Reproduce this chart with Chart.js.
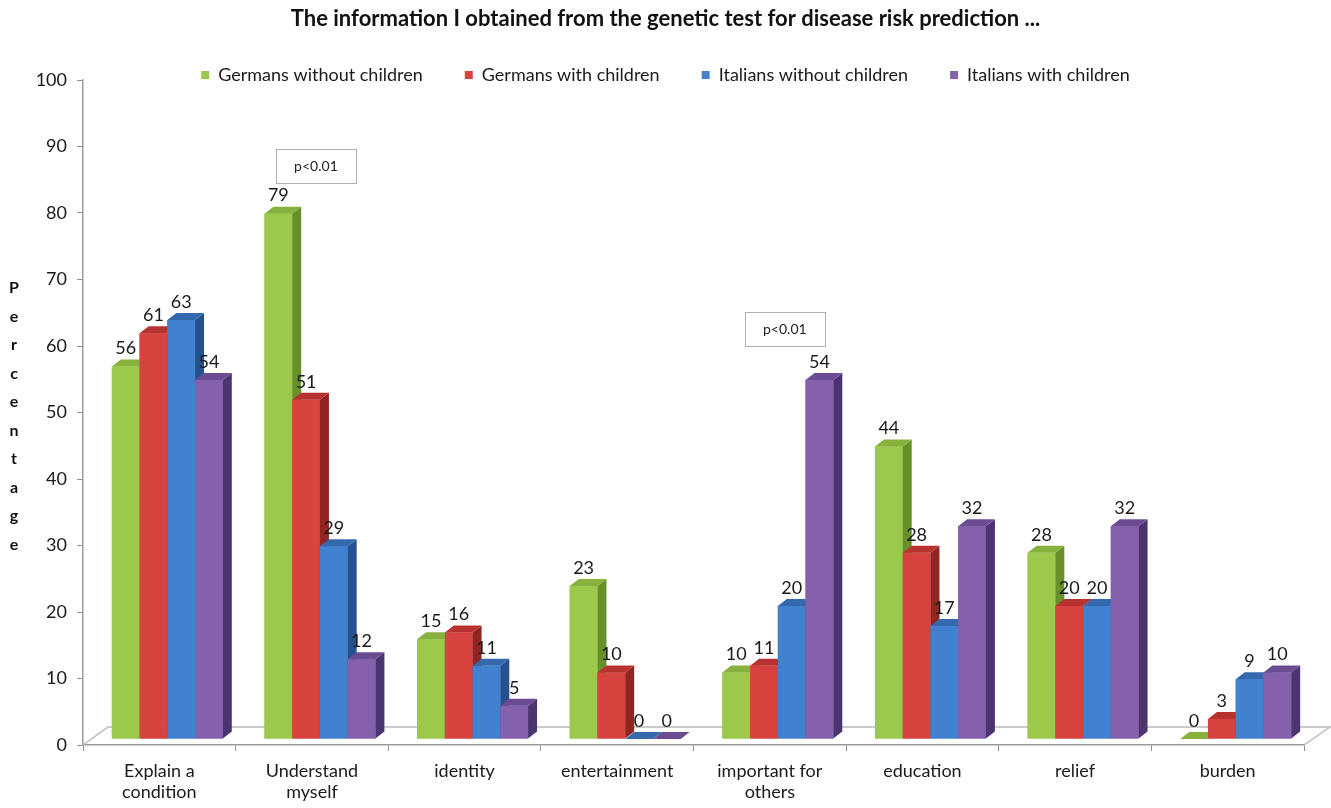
<!DOCTYPE html>
<html>
<head>
<meta charset="utf-8">
<script src="https://cdn.jsdelivr.net/npm/chart.js@4.4.1/dist/chart.umd.min.js"></script>
<style>
html, body { margin: 0; padding: 0; background: #fff; }
#wrap { width: 1331px; height: 808px; position: relative; }
</style>
</head>
<body>
<div id="wrap"><canvas id="chart"></canvas></div>
<script>
// data
const categories = [['Explain a', 'condition'], ['Understand', 'myself'], 'identity', 'entertainment',
    ['important for', 'others'], 'education', 'relief', 'burden'];
const seriesNames = ['Germans without children', 'Germans with children', 'Italians without children', 'Italians with children'];
const germansNoChildren = [56, 79, 15, 23, 10, 44, 28, 0];
const germansChildren = [61, 51, 16, 10, 11, 28, 20, 3];
const italiansNoChildren = [63, 29, 11, 0, 20, 17, 20, 9];
const italiansChildren = [54, 12, 5, 0, 54, 32, 32, 10];
const yTicks = [0, 10, 20, 30, 40, 50, 60, 70, 80, 90, 100];
const titleText = 'The information I obtained from the genetic test for disease risk prediction ...';
const yTitle = 'Percentage';
const notes = [{ cat: 1, value: 87, text: 'p<0.01' }, { cat: 4, value: 62.5, text: 'p<0.01' }];

// colours: front, side, top
const palette = [
    ['#9cc94c', '#68902a', '#86b13c'],
    ['#d8433f', '#912522', '#b8322f'],
    ['#4181cf', '#25528e', '#3569ae'],
    ['#8561ad', '#4c3470', '#6b4c93']
];

const FONT = 'Lato, "Open Sans", sans-serif';
Chart.defaults.font.family = FONT;

// 3D look
const DX = 9, DY = -7, SHIFT_X = 8, SHIFT_Y = -6;

function poly(ctx, pts, color) {
    ctx.beginPath();
    ctx.moveTo(pts[0][0], pts[0][1]);
    for (let k = 1; k < pts.length; k++) ctx.lineTo(pts[k][0], pts[k][1]);
    ctx.closePath();
    ctx.fillStyle = color;
    ctx.fill();
}

const bars3d = {
    id: 'bars3d',
    beforeDatasetsDraw(chart) {
        const { ctx, chartArea: a } = chart;
        // floor of the 3d box
        ctx.save();
        ctx.strokeStyle = '#b9b9b9';
        ctx.lineWidth = 1.5;
        ctx.beginPath();
        ctx.moveTo(a.left, a.bottom);
        ctx.lineTo(a.left + 25, a.bottom - 18);
        ctx.lineTo(a.right + 26, a.bottom - 18);
        ctx.lineTo(a.right, a.bottom);
        ctx.stroke();
        ctx.restore();
        ctx.save();
        ctx.translate(SHIFT_X, SHIFT_Y);
    },
    afterDatasetsDraw(chart) {
        const ctx = chart.ctx;
        const n = chart.data.labels.length;
        const sets = chart.data.datasets;
        for (let j = 0; j < n; j++) {
            for (let i = 0; i < sets.length; i++) {
                const bar = chart.getDatasetMeta(i).data[j];
                const p = bar.getProps(['x', 'y', 'base', 'width'], true);
                const l = p.x - p.width / 2, r = p.x + p.width / 2;
                const c = palette[i];
                ctx.fillStyle = c[0];
                ctx.fillRect(l, p.y, p.width, p.base - p.y);
                poly(ctx, [[r, p.y], [r + DX, p.y + DY], [r + DX, p.base + DY], [r, p.base]], c[1]);
                poly(ctx, [[l, p.y], [r, p.y], [r + DX, p.y + DY], [l + DX, p.y + DY]], c[2]);
            }
        }
        // value labels
        ctx.fillStyle = '#1a1a1a';
        ctx.font = '18px ' + FONT;
        ctx.textAlign = 'center';
        ctx.textBaseline = 'middle';
        sets.forEach((ds, i) => {
            chart.getDatasetMeta(i).data.forEach((bar, j) => {
                ctx.fillText(String(ds.data[j]), bar.x, bar.y - 18);
            });
        });
        ctx.restore();
    }
};

// title, legend, y title and the p-value boxes
const decor = {
    id: 'decor',
    afterDraw(chart) {
        const { ctx, width } = chart;
        const xs = chart.scales.x, ys = chart.scales.y;
        ctx.save();
        ctx.textBaseline = 'middle';

        ctx.fillStyle = '#111';
        ctx.font = 'bold 22px ' + FONT;
        ctx.textAlign = 'center';
        ctx.fillText(titleText, width / 2, 19);

        // legend row
        ctx.font = '18px ' + FONT;
        const box = 8, gapText = 9, gapItem = 42;
        const widths = chart.data.datasets.map(d => box + gapText + ctx.measureText(d.label).width);
        const total = widths.reduce((s, w) => s + w, 0) + gapItem * (widths.length - 1);
        let x = width / 2 - total / 2;
        ctx.textAlign = 'left';
        chart.data.datasets.forEach((d, i) => {
            ctx.fillStyle = palette[i][0];
            ctx.fillRect(x, 75 - box / 2, box, box);
            ctx.fillStyle = '#1a1a1a';
            ctx.fillText(d.label, x + box + gapText, 75);
            x += widths[i] + gapItem;
        });

        // stacked y title
        ctx.font = 'bold 16px ' + FONT;
        ctx.textAlign = 'center';
        ctx.fillStyle = '#111';
        yTitle.split('').forEach((ch, k) => ctx.fillText(ch, 14, 288 + k * 28.5));

        // p-value boxes
        ctx.font = '14px ' + FONT;
        notes.forEach((nt, k) => {
            const cx = xs.getPixelForValue(nt.cat) + (k === 0 ? 4 : 15);
            const cy = ys.getPixelForValue(nt.value);
            ctx.strokeStyle = '#b0b0b0';
            ctx.lineWidth = 1;
            ctx.strokeRect(Math.round(cx - 40) + 0.5, Math.round(cy - 17) + 0.5, 80, 34);
            ctx.fillStyle = '#222';
            ctx.fillText(nt.text, cx, cy);
        });
        ctx.restore();
    }
};

const seriesData = [germansNoChildren, germansChildren, italiansNoChildren, italiansChildren];

new Chart(document.getElementById('chart'), {
    type: 'bar',
    data: {
        labels: categories,
        datasets: seriesData.map((d, i) => ({
            label: seriesNames[i],
            data: d,
            backgroundColor: palette[i][0],
            borderWidth: 0
        }))
    },
    options: {
        responsive: true,
        maintainAspectRatio: false,
        animation: false,
        categoryPercentage: 0.727,
        barPercentage: 1,
        layout: { padding: { top: 80, right: 27, left: 0, bottom: 0 } },
        plugins: {
            legend: { display: false },
            title: { display: false },
            tooltip: { enabled: false }
        },
        scales: {
            x: {
                grid: { drawOnChartArea: false, tickLength: 6, color: '#8f8f8f', offset: true },
                border: { color: '#9a9a9a', width: 1.5 },
                ticks: {
                    color: '#1a1a1a',
                    font: { size: 18, lineHeight: 1.2 },
                    padding: 9,
                    maxRotation: 0,
                    autoSkip: false
                },
                afterFit(s) { s.height = 63; }
            },
            y: {
                min: 0,
                max: 100,
                afterBuildTicks(s) { s.ticks = yTicks.map(v => ({ value: v })); },
                grid: { drawOnChartArea: false, tickLength: 6, color: '#8f8f8f' },
                border: { color: '#9a9a9a', width: 1.5 },
                ticks: { color: '#1a1a1a', font: { size: 18 }, padding: 10 },
                afterFit(s) { s.width = 83; }
            }
        }
    },
    plugins: [bars3d, decor]
});
</script>
</body>
</html>
